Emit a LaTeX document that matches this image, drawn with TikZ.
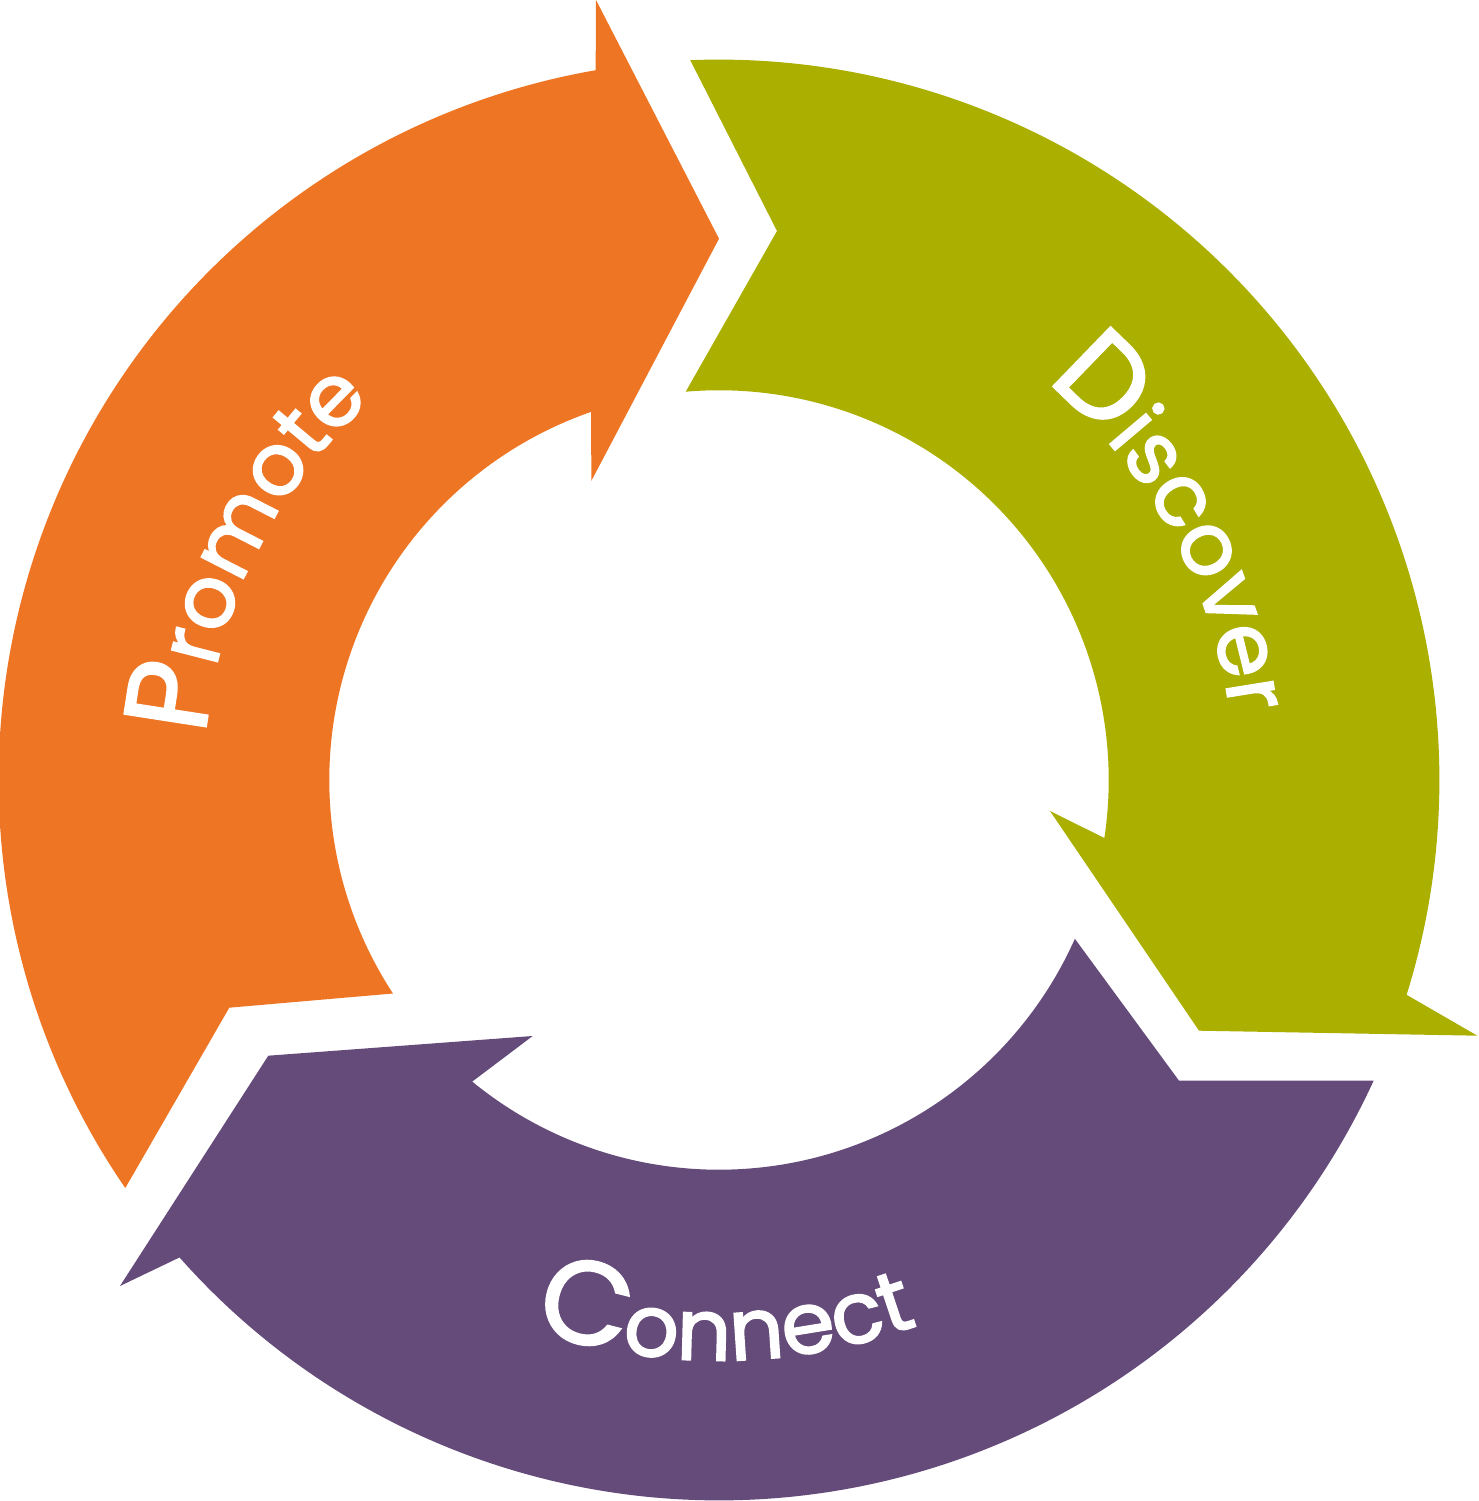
\documentclass[tikz,border=0pt]{standalone}
\usepackage{fontspec}
\setmainfont{Poppins}[FakeBold=2]
\usetikzlibrary{decorations.text}
\definecolor{promote}{RGB}{238,117,36}
\definecolor{discover}{RGB}{171,175,0}
\definecolor{connect}{RGB}{101,75,121}
\newcommand{\capsz}{\fontsize{33.5pt}{36pt}\selectfont}
\newcommand{\lowsz}{\fontsize{24.4pt}{28pt}\selectfont}

\begin{document}
\begin{tikzpicture}[x=0.01cm, y=0.01cm,
    word/.style={decorate, decoration={text along path, text align=center,
      text color=white, text={#1}}}]
    \def\R{7.2cm}
    \def\r{3.895cm}
    \useasboundingbox (-719,-721) rectangle (759,780);
    \coordinate (O) at (0,0);
    % Promote
    \fill[promote] (214.5:\R) -- (-489.7,-227.7) -- (213.22:\r)
      arc[start angle=213.22, end angle=109.15, radius=\r]
      -- (-127.7,299) -- (0,541.3) -- (-123,780) -- (99.86:\R)
      arc[start angle=99.86, end angle=214.5, radius=\R] -- cycle;
    % Discover
    \fill[discover] (92.29:\R) -- (58,549) -- (94.9:\r)
      arc[start angle=94.9, end angle=-8.56, radius=\r]
      -- (331,-31) -- (480,-250.7) -- (758.3,-255.7) -- (-17.35:\R)
      arc[start angle=-17.35, end angle=92.29, radius=\R] -- cycle;
    % Connect
    \fill[connect] (-24.66:\R) -- (460,-300.7) -- (-24.05:\r)
      arc[start angle=-24.05, end angle=-129.29, radius=\r]
      -- (-186.3,-256) -- (-450.7,-275.7) -- (-599,-506) -- (-138.49:\R)
      arc[start angle=-138.49, end angle=-24.66, radius=\R] -- cycle;
    % labels
    \path[word={|\capsz|P|\lowsz|romote}] (198.75:5.15cm)
      arc[start angle=198.75, end angle=108.75, radius=5.15cm];
    \path[word={|\capsz|D|\lowsz|iscover}] (74:5.15cm)
      arc[start angle=74, end angle=-16, radius=5.15cm];
    \path[word={|\capsz|C|\lowsz|onnect}] (-134.3:5.8cm)
      arc[start angle=-134.3, end angle=-44.3, radius=5.8cm];
\end{tikzpicture}
\end{document}
